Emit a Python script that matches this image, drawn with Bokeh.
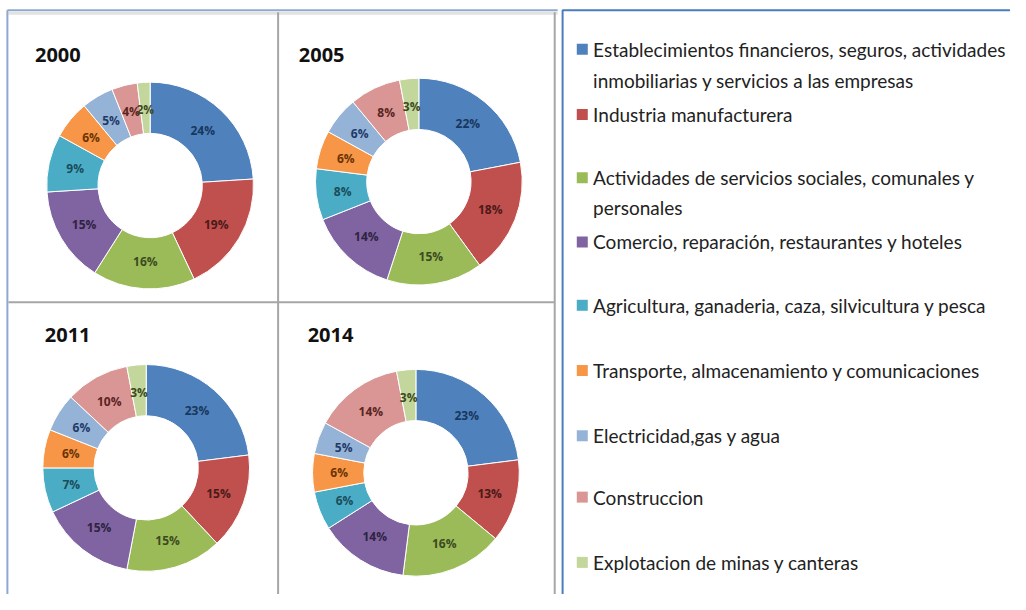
import math
from bokeh.plotting import figure
from bokeh.models import Range1d, ColumnDataSource
from bokeh.core.properties import value
from bokeh.embed import file_html
from bokeh.resources import INLINE

# ---- data ----
sectors = [
    "Establecimientos financieros, seguros, actividades|inmobiliarias y servicios a las empresas",
    "Industria manufacturera",
    "Actividades de servicios sociales, comunales y|personales",
    "Comercio, reparación, restaurantes y hoteles",
    "Agricultura, ganaderia, caza, silvicultura y pesca",
    "Transporte, almacenamiento y comunicaciones",
    "Electricidad,gas y agua",
    "Construccion",
    "Explotacion de minas y canteras",
]
years = ["2000", "2005", "2011", "2014"]
share_2000 = [24, 19, 16, 15, 9, 6, 5, 4, 2]
share_2005 = [22, 18, 15, 14, 8, 6, 6, 8, 3]
share_2011 = [23, 15, 15, 15, 7, 6, 6, 10, 3]
share_2014 = [23, 13, 16, 14, 6, 6, 5, 14, 3]
colors = ["#4F81BD", "#C0504D", "#9BBB59", "#8064A2", "#4BACC6",
          "#F79646", "#95B3D7", "#D99694", "#C3D69B"]
label_colors = ["#17375E", "#4A1A19", "#3B4A1E", "#2E2340", "#1A4D5A",
                "#6B3304", "#1F3A66", "#5A2422", "#3B4A1E"]

W, H = 1010, 594
REF_W, REF_H = 1026, 610


def Y(py):
    return REF_H - py


p = figure(width=W, height=H, output_backend="svg", toolbar_location=None,
           x_range=Range1d(0, REF_W), y_range=Range1d(0, REF_H),
           min_border=0, tools="")
p.axis.visible = False
p.grid.visible = False
p.outline_line_color = None
p.background_fill_color = "white"

# ---- panel borders ----
gray = "#a6a6a6"
p.line([7, 566], [Y(10), Y(10)], line_color="#8fa8d0", line_width=2)
p.line([8, 566], [Y(13), Y(13)], line_color="#e2e2e2", line_width=3)
p.line([7, 7], [Y(10), Y(612)], line_color="#8fa8d0", line_width=2)
p.line([282, 282], [Y(12), Y(612)], line_color=gray, line_width=2)
p.line([8, 563], [Y(310), Y(310)], line_color=gray, line_width=2)
p.line([563, 563], [Y(12), Y(612)], line_color=gray, line_width=2)
# legend box
p.line([571, 571, 1030], [Y(612), Y(10), Y(10)], line_color="#4a7ebb", line_width=2)

# ---- donuts ----
series = [share_2000, share_2005, share_2011, share_2014]
centers = [(152, 190), (425, 186), (148, 480), (422, 485)]
title_pos = [(35, 56), (303, 56), (45, 343), (312, 343)]
R_OUT, R_IN, R_LAB = 105, 53, 78

for yr, vals, (cx, cy), (tx, ty) in zip(years, series, centers, title_pos):
    total = float(sum(vals))
    starts, ends, lx, ly = [], [], [], []
    cum = 0.0
    for v in vals:
        a0 = math.pi / 2 - 2 * math.pi * cum / total
        cum += v
        a1 = math.pi / 2 - 2 * math.pi * cum / total
        starts.append(a0)
        ends.append(a1)
        am = (a0 + a1) / 2
        lx.append(cx + R_LAB * math.cos(am))
        ly.append(Y(cy) + R_LAB * math.sin(am))
    src = ColumnDataSource(dict(start=starts, end=ends, color=colors,
                                lx=lx, ly=ly,
                                lab=[f"{v}%" for v in vals],
                                lcol=label_colors))
    p.annular_wedge(x=cx, y=Y(cy), inner_radius=R_IN, outer_radius=R_OUT,
                    start_angle="start", end_angle="end", direction="clock",
                    fill_color="color", line_color="white", line_width=1,
                    source=src)
    p.text(x="lx", y="ly", text="lab", source=src, text_color="lcol",
           text_font=value("Open Sans"), text_font_size="12px",
           text_font_style="bold", text_align="center",
           text_baseline="middle")
    p.text(x=[tx], y=[Y(ty)], text=[yr], text_font=value("Open Sans"),
           text_font_size="20px", text_font_style="bold",
           text_color="#111111", text_baseline="middle")

# ---- legend ----
legend_rows = [(50, 82), (117,), (182, 213), (248,), (313,), (380,),
               (447,), (510,), (577,)]
sq_x, sq_y, sq_c = [], [], []
tx_x, tx_y, tx_t = [], [], []
for name, col, rows in zip(sectors, colors, legend_rows):
    lines = name.split("|")
    sq_x.append(591)
    sq_y.append(Y(rows[0]))
    sq_c.append(col)
    for ln, ry in zip(lines, rows):
        tx_x.append(602)
        tx_y.append(Y(ry))
        tx_t.append(ln)
p.scatter(x=sq_x, y=sq_y, marker="square", size=11, fill_color=sq_c,
          line_color=None)
p.text(x=tx_x, y=tx_y, text=tx_t, text_font=value("Lato"),
       text_font_size="19px", text_color="#222222", text_baseline="middle")

open("out.html", "w").write(file_html(p, INLINE))
